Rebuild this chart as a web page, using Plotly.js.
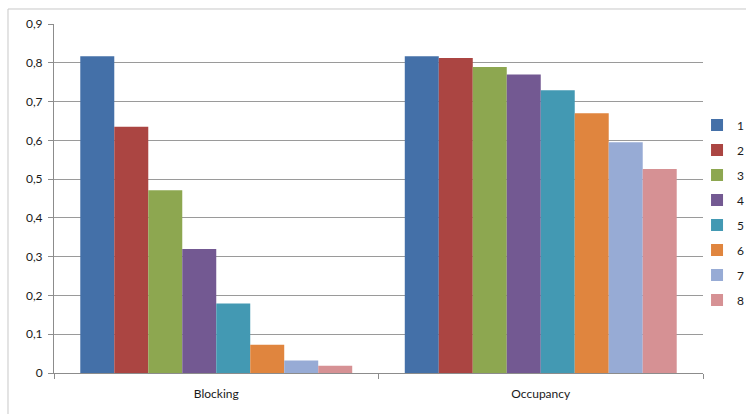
<!DOCTYPE html>
<html>
<head>
<meta charset="utf-8">
<script src="https://cdn.plot.ly/plotly-3.0.1.min.js"></script>
<style>html,body{margin:0;padding:0;background:#fff;}#chart{width:746px;height:414px;}</style>
</head>
<body>
<div id="chart"></div>
<script>
const categories = ["Blocking", "Occupancy"];
const seriesNames = ["1", "2", "3", "4", "5", "6", "7", "8"];
const blocking = [0.817, 0.635, 0.471, 0.320, 0.179, 0.073, 0.032, 0.019];
const occupancy = [0.817, 0.812, 0.789, 0.770, 0.729, 0.670, 0.595, 0.526];
const colors = ["#4470A8", "#AB4542", "#8DA750", "#735992", "#4399B3", "#E0853E", "#97ABD5", "#D69194"];

const traces = seriesNames.map((name, i) => ({
  type: "bar",
  name: name,
  x: categories,
  y: [blocking[i], occupancy[i]],
  marker: { color: colors[i], line: { width: 0 } },
  legendgroup: "g" + i,
  hoverinfo: "x+y+name"
}));

const font = { family: "Lato, 'Open Sans', sans-serif", size: 12, color: "#1a1a1a" };

const layout = {
  width: 746,
  height: 414,
  margin: { l: 54, r: 43, t: 24, b: 41, autoexpand: false },
  paper_bgcolor: "#ffffff",
  plot_bgcolor: "#ffffff",
  font: font,
  separators: ",.",
  barmode: "group",
  bargap: 0.162,
  bargroupgap: 0,
  showlegend: true,
  legend: {
    x: 0.9908, xanchor: "left",
    y: 0.752, yanchor: "top",
    orientation: "v",
    tracegroupgap: 6,
    bgcolor: "rgba(0,0,0,0)",
    font: font
  },
  xaxis: {
    type: "category",
    tickson: "boundaries",
    ticks: "outside",
    ticklen: 5,
    tickcolor: "#8c8c8c",
    ticklabelstandoff: 10,
    showline: true,
    linecolor: "#8c8c8c",
    linewidth: 1,
    showgrid: false,
    tickfont: font
  },
  yaxis: {
    range: [0, 0.9],
    dtick: 0.1,
    tick0: 0,
    ticks: "outside",
    ticklen: 5,
    tickcolor: "#8c8c8c",
    ticklabelstandoff: 3,
    showline: true,
    linecolor: "#8c8c8c",
    linewidth: 1,
    showgrid: true,
    gridcolor: "#9a9a9a",
    gridwidth: 1,
    zeroline: false,
    tickfont: font
  },
  shapes: [{
    type: "rect", xref: "paper", yref: "paper", layer: "below",
    x0: -0.0709, x1: 1.2, y0: -0.3, y1: 1.043,
    line: { color: "#c8c8c8", width: 1 }, fillcolor: "rgba(0,0,0,0)"
  }]
};

Plotly.newPlot("chart", traces, layout, { displayModeBar: false, staticPlot: true });
</script>
</body>
</html>
